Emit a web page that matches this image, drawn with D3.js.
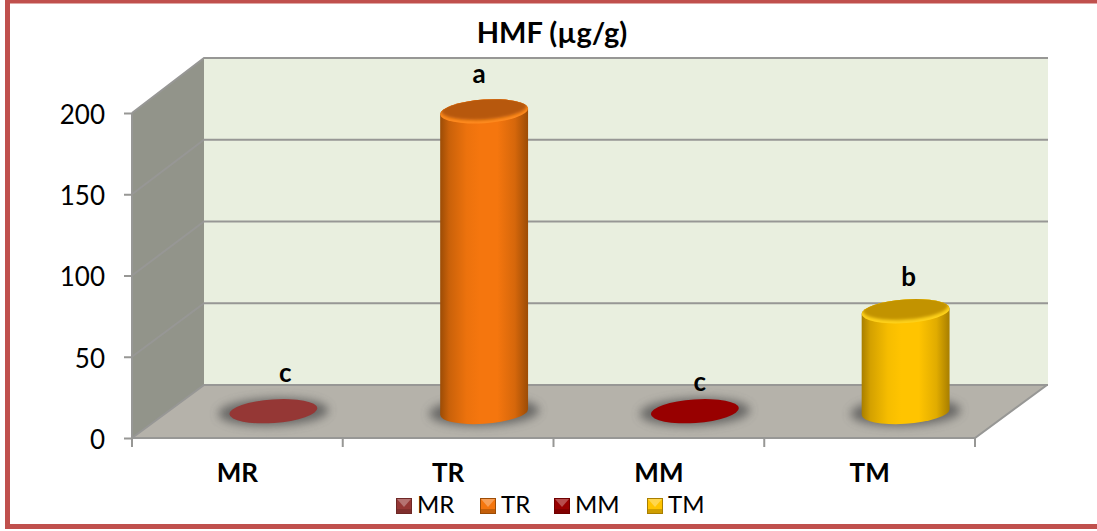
<!DOCTYPE html>
<html>
<head>
<meta charset="utf-8">
<script src="https://cdn.jsdelivr.net/npm/d3@7/dist/d3.min.js"></script>
<style>
html,body{margin:0;padding:0;background:#fff;overflow:hidden}
svg{display:block}
text{font-family:Lato,"Open Sans",sans-serif;fill:#000}
</style>
</head>
<body>
<svg id="chart" width="1097" height="531"></svg>
<script>
// HMF content per sample
const categories = ["MR", "TR", "MM", "TM"];
const hmfValues = [0.5, 185, 0.5, 62];
const significance = ["c", "a", "c", "b"];
const yTicks = [0, 50, 100, 150, 200];
const chartTitle = "HMF (µg/g)";
const barColors = ["#953735", "#f5760e", "#980000", "#ffc400"];
const barDark = ["#6e2826", "#9c4c06", "#6e0000", "#a87e00"];
const barEdge = ["#a8403e", "#ff8a1e", "#a80000", "#ffd21a"];

const svg = d3.select("#chart");
const defs = svg.append("defs");

// Projection of the box: front plane, and the depth offset to the back wall
const left = 132, right = 975, frontY0 = 438, frontY200 = 113;
const depthX = 72, backY0 = 385, backY200 = 58;
const x = d3.scaleBand().domain(categories).range([left, right]);
const yFront = d3.scaleLinear().domain([0, 200]).range([frontY0, frontY200]);
const yBack = d3.scaleLinear().domain([0, 200]).range([backY0, backY200]);
const poly = pts => pts.map(p => p.join(",")).join(" ");

// Outer frame
svg.append("rect").attr("x", 7.5).attr("y", 1).attr("width", 1094).attr("height", 525.5)
  .attr("fill", "#fff").attr("stroke", "#c0504d").attr("stroke-width", 5);

// Box walls
svg.append("polygon").attr("fill", "#e9efdf")
  .attr("points", poly([[left + depthX, yBack(200)], [right + depthX + 1, yBack(200)], [right + depthX + 1, yBack(0)], [left + depthX, yBack(0)]]));
svg.append("polygon").attr("fill", "#92948a")
  .attr("points", poly([[left, yFront(200)], [left + depthX, yBack(200)], [left + depthX, yBack(0)], [left, yFront(0)]]));
svg.append("polygon").attr("fill", "#b5b2aa")
  .attr("points", poly([[left, yFront(0)], [left + depthX, yBack(0)], [right + depthX, yBack(0)], [right, yFront(0)]]));

// Gridlines on the back wall and side wall
const grid = svg.append("g").attr("fill", "none").attr("stroke", "#979795");
yTicks.forEach(v => {
  grid.append("polyline").attr("stroke-width", 2)
    .attr("points", poly([[left, yFront(v)], [left + depthX, yBack(v)], [right + depthX + 1, yBack(v)]]));
});
grid.append("polyline").attr("stroke-width", 2)
  .attr("points", poly([[right + depthX, yBack(0)], [right, yFront(0)], [left, yFront(0)], [left, yFront(200)]]));

// Axis ticks and labels through d3 axes
const axisY = d3.axisLeft(yFront).tickValues(yTicks).tickSize(8).tickPadding(19);
const gy = svg.append("g").attr("transform", `translate(${left},0)`).call(axisY);
gy.select(".domain").remove();
gy.selectAll("line").attr("stroke", "#979795").attr("stroke-width", 2);
gy.selectAll("text").attr("dy", "0.4em").style("font-size", "26px").style("font-family", "Lato").attr("fill", "#000");

const axisX = d3.axisBottom(x).tickSize(0).tickPadding(26);
const gx = svg.append("g").attr("transform", `translate(0,${frontY0})`).call(axisX);
gx.select(".domain").remove();
gx.selectAll("text").style("font-size", "26px").style("font-weight", "700").style("font-family", "Lato").attr("fill", "#000");
const boundaries = categories.map(c => x(c)).concat([right]);
svg.append("g").selectAll("line").data(boundaries).join("line")
  .attr("x1", d => d).attr("x2", d => d).attr("y1", frontY0).attr("y2", frontY0 + 9)
  .attr("stroke", "#979795").attr("stroke-width", 2);

// Cylinders
const rx = x.bandwidth() * 0.209, ry = 11.8, rot = -4;
const th = rot * Math.PI / 180;
const xExt = Math.sqrt(rx * rx * Math.cos(th) ** 2 + ry * ry * Math.sin(th) ** 2);
const yAtExt = (rx * rx - ry * ry) * Math.sin(th) * Math.cos(th) / xExt;
const heightPerUnit = (frontY0 - frontY200) / 200;
const baseY = (frontY0 + backY0) / 2 + 0.5;
const cx = c => x(c) + x.bandwidth() / 2 + depthX / 2;

defs.append("filter").attr("id", "soft").attr("x", "-30%").attr("y", "-80%").attr("width", "160%").attr("height", "260%")
  .append("feGaussianBlur").attr("stdDeviation", 5);
defs.append("filter").attr("id", "glow").attr("x", "-20%").attr("y", "-60%").attr("width", "140%").attr("height", "220%")
  .append("feGaussianBlur").attr("stdDeviation", 1.8);

categories.forEach((c, i) => {
  const mix = d3.interpolateRgb(barDark[i], barColors[i]);
  const gr = defs.append("linearGradient").attr("id", "side" + i);
  [[0, barDark[i]], [0.1, mix(0.5)], [0.3, mix(0.9)], [0.45, barColors[i]], [0.65, barColors[i]], [0.85, mix(0.65)], [1, barDark[i]]]
    .forEach(([o, col]) => gr.append("stop").attr("offset", o).attr("stop-color", col));
});

const bars = svg.append("g");
categories.forEach((c, i) => {
  const cxv = cx(c), topY = baseY - hmfValues[i] * heightPerUnit;
  const g = bars.append("g");
  // contact shadow on the floor
  g.append("ellipse").attr("cx", cxv).attr("cy", baseY).attr("rx", rx + 11).attr("ry", ry + 2)
    .attr("transform", `rotate(${rot / 2} ${cxv} ${baseY})`)
    .attr("fill", "#505050").attr("opacity", 0.75).attr("filter", "url(#soft)");
  if (hmfValues[i] > 5) {
    // wall of the cylinder, closed by the lower half of the base ellipse
    const d = `M${cxv - xExt},${topY - yAtExt} L${cxv - xExt},${baseY - yAtExt}`
      + ` A${rx},${ry} ${rot} 0 0 ${cxv + xExt},${baseY + yAtExt}`
      + ` L${cxv + xExt},${topY + yAtExt}`
      + ` A${rx},${ry} ${rot} 0 0 ${cxv - xExt},${topY - yAtExt} Z`;
    g.append("path").attr("d", d).attr("fill", `url(#side${i})`);
    const clipId = "cap" + i;
    defs.append("clipPath").attr("id", clipId).append("ellipse")
      .attr("cx", cxv).attr("cy", topY).attr("rx", rx).attr("ry", ry)
      .attr("transform", `rotate(${rot} ${cxv} ${topY})`);
    const cap = g.append("g").attr("clip-path", `url(#${clipId})`);
    cap.append("ellipse").attr("cx", cxv).attr("cy", topY).attr("rx", rx + 1).attr("ry", ry + 1)
      .attr("transform", `rotate(${rot} ${cxv} ${topY})`).attr("fill", barEdge[i]);
    cap.append("ellipse").attr("cx", cxv).attr("cy", topY - 3).attr("rx", rx - 1).attr("ry", ry - 0.5)
      .attr("transform", `rotate(${rot} ${cxv} ${topY - 3})`)
      .attr("fill", d3.interpolateRgb(barDark[i], barColors[i])(0.3)).attr("filter", "url(#glow)");
  } else {
    g.append("ellipse").attr("cx", cxv).attr("cy", topY).attr("rx", rx).attr("ry", ry)
      .attr("transform", `rotate(${rot} ${cxv} ${topY})`).attr("fill", barColors[i]);
  }
});

// Significance letters above each bar
const letterRise = [29, 28, 20, 25];
const letterShift = [12, -5, 5, 3];
svg.append("g").selectAll("text").data(categories).join("text")
  .attr("x", (c, i) => cx(c) + letterShift[i])
  .attr("y", (c, i) => baseY - hmfValues[i] * heightPerUnit - letterRise[i])
  .attr("text-anchor", "middle").style("font-size", "26px").style("font-weight", "700")
  .text((c, i) => significance[i]);

// Title
svg.append("text").attr("x", 552).attr("y", 43).attr("text-anchor", "middle")
  .style("font-size", "29px").style("font-weight", "700").text(chartTitle);

// Legend with bevelled swatches
const legendStarts = [396, 480, 554, 647];
const s = 16, ly = 498;
const legend = svg.append("g");
categories.forEach((c, i) => {
  const g = legend.append("g").attr("transform", `translate(${legendStarts[i]},${ly})`);
  const m = [s / 2, s / 2 + 1], a = 4;
  g.append("rect").attr("width", s).attr("height", s).attr("fill", barDark[i]);
  g.append("rect").attr("x", 1).attr("y", 1).attr("width", s - 2).attr("height", s - 2 - a).attr("fill", barColors[i]);
  g.append("polygon").attr("points", poly([[1, 1], [s - 1, 1], m])).attr("fill", d3.interpolateRgb(barColors[i], "#fff")(0.3));
  g.append("rect").attr("x", 1).attr("y", s - a - 1).attr("width", s - 2).attr("height", a).attr("fill", d3.interpolateRgb(barDark[i], barColors[i])(0.45));
  g.append("text").attr("x", s + 5).attr("y", s - 1).style("font-size", "24px").text(c);
});
</script>
</body>
</html>
